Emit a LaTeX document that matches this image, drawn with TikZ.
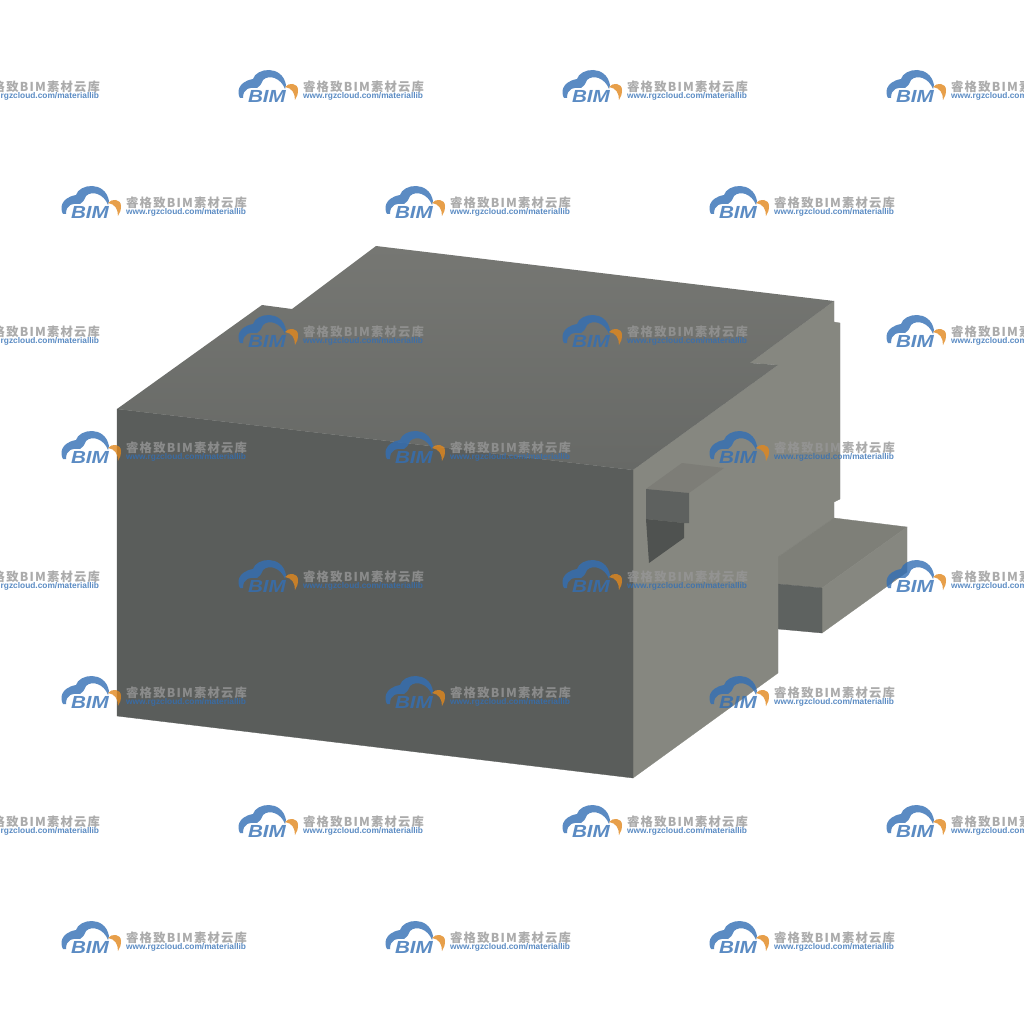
\documentclass[tikz,border=0pt]{standalone}
\usepackage{fontspec}
\setmainfont{Liberation Sans}
\newfontfamily\cjkmark[LetterSpace=10]{Noto Sans CJK SC}
\definecolor{marknavy}{HTML}{326FB5}
\definecolor{markgray}{HTML}{979797}
\definecolor{markamber}{HTML}{E2881D}
\definecolor{facefront}{HTML}{5A5D5B}
\definecolor{faceside}{HTML}{868780}
\definecolor{topback}{HTML}{767773}
\definecolor{topfront}{HTML}{676966}
\tikzset{front/.style={fill=facefront, draw=facefront, line width=0.3pt}}
\tikzset{side/.style={fill=faceside, draw=faceside, line width=0.3pt}}
\tikzset{bimmark/.pic={
        \fill[marknavy] (2,11) .. controls (-1,6) and (-1,-5) .. (15,-8)
            .. controls (18,-19) and (44,-23) .. (48,-2)
            -- (47,2) .. controls (43,-9) and (31,-13) .. (25,-7)
            .. controls (23,-3) and (22,0) .. (19,1)
            .. controls (12,0) and (5,1) .. (5,11) -- cycle;
        \fill[markamber] (47,0) .. controls (51,-5) and (60,-4) .. (60,3)
            .. controls (60,7) and (59,10) .. (57,13)
            .. controls (57,6) and (54,1) .. (47,0) -- cycle;
        \node[anchor=center, xscale=1.18, text=marknavy, font=\fontsize{17.5}{18}\selectfont\bfseries\itshape, inner sep=0pt] (logo) at (29,9) {BIM};
        \node[anchor=west, text=markgray, font=\fontsize{12.3}{13}\selectfont\cjkmark\bfseries, inner sep=0pt] (name) at (65,0) {睿格致BIM素材云库};
        \node[anchor=west, text=marknavy, font=\fontsize{8.35}{9}\selectfont\bfseries, inner sep=0pt] (site) at (65,9) {www.rgzcloud.com/materiallib};
}}

\begin{document}
\begin{tikzpicture}[x=1pt, y=-1pt]
        \useasboundingbox (0,0) rectangle (1024,1024);
        \clip (0,0) rectangle (1024,1024);
        \fill[white] (0,0) rectangle (1024,1024);

        % rear block and foot
        \draw [side] (750,363) -- (834,301) -- (834,322) -- (840,323) -- (840,499) -- (834,502) -- (834,518) -- (778,557) -- (778,365) -- cycle;
        \draw [fill=faceside!94!black, draw=faceside!94!black, line width=0.3pt] (834,518) -- (907,527) -- (822,588) -- (778,584) -- (778,557) -- cycle;
        \draw [side] (907,527) -- (907,572) -- (822,633) -- (822,588) -- cycle;
        \draw [fill=facefront!105!black, draw=facefront, line width=0.3pt] (778,584) -- (822,588) -- (822,633) -- (778,629) -- cycle;

        % main body
        \draw [side] (633,470) -- (778,365) -- (778,673) -- (633,778) -- cycle;
        \draw [front] (117,409) -- (633,470) -- (633,778) -- (117,716) -- cycle;
        \shade [top color=topback, bottom color=topfront] (117,409) -- (262,305) -- (292,309) -- (376,246) -- (834,301) -- (750,363) -- (778,365) -- (633,470) -- cycle;

        % latch window
        \fill [faceside!93!black] (646,489) -- (682,463) -- (724,468) -- (689,493) -- cycle;
        \fill [facefront!90!faceside] (646,489) -- (689,493) -- (689,523) -- (684,523) -- (646,519) -- cycle;
        \fill [facefront!88!black] (646,519) -- (684,523) -- (684,538) -- (649,563) -- cycle;

        % watermark
        \begin{scope}[opacity=0.8, transparency group]
            \foreach \ypos in {87,332,577,822}
                \foreach \xpos in {-86,238,562,886}
                    \pic (a\xpos-\ypos) at (\xpos,\ypos) {bimmark};
            \foreach \ypos in {203,448,693,938}
                \foreach \xpos in {61,385,709}
                    \pic (b\xpos-\ypos) at (\xpos,\ypos) {bimmark};
        \end{scope}
    \end{tikzpicture}
\end{document}
